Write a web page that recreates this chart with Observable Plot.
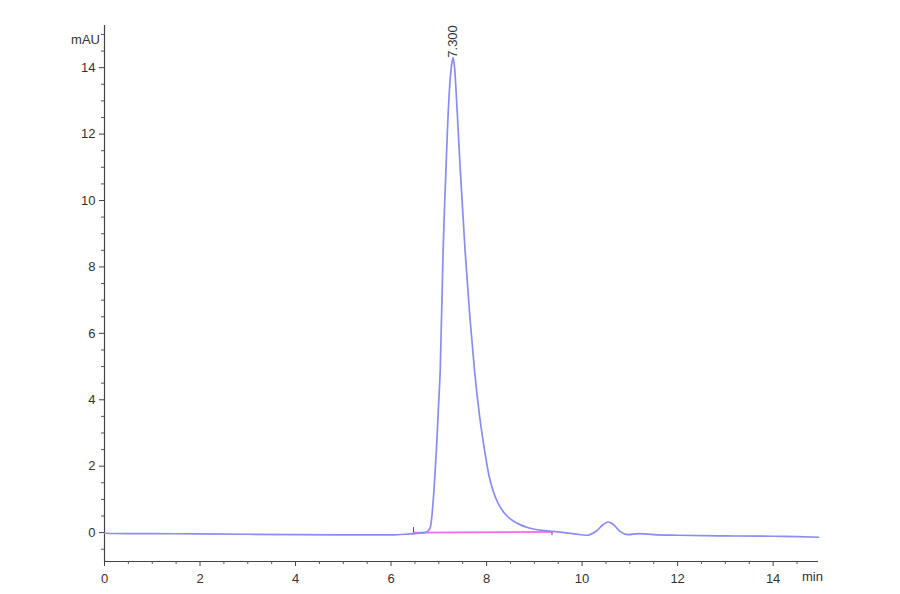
<!DOCTYPE html>
<html>
<head>
<meta charset="utf-8">
<script src="https://cdn.jsdelivr.net/npm/d3@7"></script>
<script src="https://cdn.jsdelivr.net/npm/@observablehq/plot@0.6"></script>
<style>
  html, body { margin: 0; padding: 0; background: #fff; }
</style>
</head>
<body>
<div id="chart"></div>
<script>
// Chromatogram trace (time in min, signal in mAU)
const times = [0, 0.5, 1, 2, 3, 4, 5, 6, 6.4, 6.6, 6.75, 6.82, 6.9, 6.95, 7.0, 7.03, 7.09, 7.13, 7.18, 7.23, 7.27, 7.30, 7.33, 7.38, 7.45, 7.55, 7.65, 7.75, 7.85, 7.95, 8.05, 8.15, 8.25, 8.35, 8.45, 8.56, 8.7, 8.84, 9.0, 9.19, 9.5, 9.8, 10.1, 10.3, 10.45, 10.55, 10.65, 10.8, 10.95, 11.2, 11.5, 12, 13, 14, 14.5, 14.95];
const signal = [-0.02, -0.03, -0.03, -0.04, -0.05, -0.06, -0.07, -0.07, -0.04, -0.02, 0.02, 0.15, 1.3, 2.5, 4.0, 4.9, 8.5, 10.2, 12.1, 13.5, 14.1, 14.3, 14.0, 12.8, 10.9, 8.5, 6.5, 4.85, 3.55, 2.55, 1.72, 1.2, 0.86, 0.63, 0.47, 0.35, 0.24, 0.16, 0.1, 0.06, 0.02, -0.03, -0.08, 0.05, 0.25, 0.32, 0.25, 0.03, -0.06, -0.03, -0.06, -0.08, -0.1, -0.11, -0.12, -0.14];

// Integration baseline
const baseTimes = [6.47, 9.37];
const baseValues = [0.0, 0.02];
// Integration end markers
const markTimes = [6.47, 9.37];
const markLow = [0.0, -0.09];
const markHigh = [0.15, 0.03];

// Peak label
const peakTime = 7.30;
const peakValue = 14.3;
const peakLabel = "7.300";

// Axes
const xDomain = [0, 14.95];
const yDomain = [-0.87, 15.27];
const xMajor = [0, 2, 4, 6, 8, 10, 12, 14];
const xMinor = [0.5, 1, 1.5, 2.5, 3, 3.5, 4.5, 5, 5.5, 6.5, 7, 7.5, 8.5, 9, 9.5, 10.5, 11, 11.5, 12.5, 13, 13.5, 14.5];
const yMajor = [0, 2, 4, 6, 8, 10, 12, 14];
const yMinor = [-0.5, 0.5, 1, 1.5, 2.5, 3, 3.5, 4.5, 5, 5.5, 6.5, 7, 7.5, 8.5, 9, 9.5, 10.5, 11, 11.5, 12.5, 13, 13.5, 14.5, 15];
const yUnit = "mAU";
const xUnit = "min";

const trace = times.map((t, i) => ({t, v: signal[i]}));
const base = baseTimes.map((t, i) => ({t, v: baseValues[i]}));
const marks = markTimes.map((t, i) => ({t, lo: markLow[i], hi: markHigh[i]}));

const font = "'Liberation Sans', Arial, sans-serif";

const plot = Plot.plot({
  width: 900,
  height: 594,
  marginLeft: 104,
  marginRight: 82,
  marginTop: 25,
  marginBottom: 33,
  x: {domain: xDomain},
  y: {domain: yDomain},
  style: {fontFamily: font, fontSize: "13px", color: "#333", background: "#fff"},
  marks: [
    Plot.ruleX([xDomain[0]], {stroke: "#444", strokeWidth: 1.2}),
    Plot.ruleY([yDomain[0]], {stroke: "#444", strokeWidth: 1.2}),
    Plot.axisX(xMinor, {tickSize: 3, tickFormat: () => "", label: null, stroke: "#555"}),
    Plot.axisX(xMajor, {tickSize: 5, tickPadding: 7, label: null, stroke: "#444", fill: "#333", fontSize: 13}),
    Plot.axisY(yMinor, {tickSize: 3, tickFormat: () => "", label: null, stroke: "#555"}),
    Plot.axisY(yMajor, {tickSize: 5, tickPadding: 4, label: null, stroke: "#444", fill: "#333", fontSize: 13}),
    Plot.line(base, {x: "t", y: "v", stroke: "#ff66ee", strokeWidth: 1.8}),
    Plot.ruleX(marks, {x: "t", y1: "lo", y2: "hi", stroke: "#555", strokeWidth: 1}),
    Plot.line(trace, {x: "t", y: "v", stroke: "#8a8cf0", strokeWidth: 1.7, curve: "monotone-x"}),
    Plot.text([peakLabel], {x: peakTime, y: peakValue, text: d => d, rotate: -90, textAnchor: "start", lineAnchor: "middle", fill: "#333", fontSize: 13}),
    Plot.text([yUnit], {frameAnchor: "top-left", dx: -19, dy: 9, text: d => d, textAnchor: "middle", fill: "#333", fontSize: 13}),
    Plot.text([xUnit], {frameAnchor: "bottom-right", dx: -6, dy: 19, text: d => d, textAnchor: "middle", fill: "#333", fontSize: 13})
  ]
});
document.getElementById("chart").appendChild(plot);
</script>
</body>
</html>
